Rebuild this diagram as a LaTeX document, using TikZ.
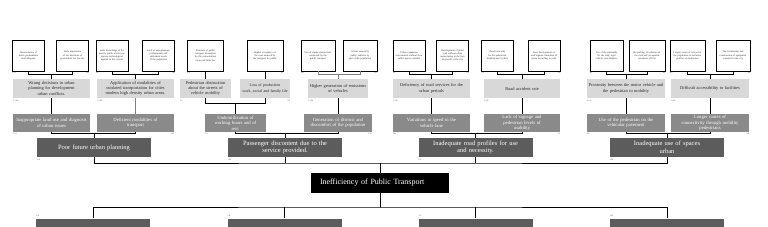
\documentclass[tikz,border=0pt]{standalone}
\usepackage{fontspec}
\setmainfont{Liberation Serif}
\usepackage{xcolor}
\usetikzlibrary{positioning}
\definecolor{boxdark}{RGB}{92,92,92}
\definecolor{boxmid}{RGB}{138,138,138}
\definecolor{boxlight}{RGB}{216,216,216}
\definecolor{textdark}{RGB}{40,40,40}
\hyphenpenalty=10000
\exhyphenpenalty=10000

\begin{document}
\begin{tikzpicture}[x=1pt, y=1pt,
  every node/.style={inner sep=0pt, align=center},
  wbox/.style={draw=black, line width=0.9pt, fill=white, minimum width=32pt, text width=27pt, minimum height=31pt, text=textdark, font=\fontsize{2.5}{3.1}\selectfont},
  lbox/.style={fill=boxlight, minimum height=19pt, text=textdark, font=\fontsize{4.4}{5.3}\selectfont},
  mbox/.style={fill=boxmid, minimum height=18pt, text=white, font=\fontsize{4.7}{5.6}\selectfont},
  ebox/.style={fill=boxdark, minimum width=114pt, text width=106pt, minimum height=19pt, text=white, font=\fontsize{6.5}{7.6}\selectfont},
  problem/.style={fill=black, text=white, minimum height=20pt, text width=120pt, inner xsep=9pt, align=left, font=\fontsize{8}{9}\selectfont},
  idtag/.style={text=textdark, font=\fontsize{2}{2.4}\selectfont},
  link/.style={line width=0.9pt},
  faint/.style={line width=0.9pt, draw=gray}]
\useasboundingbox (0,0) rectangle (768,-227);
\clip (0,0) rectangle (768,-227);

% central problem
\node[problem] (prob) at (380,-183) {Inefficiency of Public Transport};

% effects
\node[ebox] (e1) at (94,-147.5) {Poor future urban planning};
\node[ebox] (e2) at (285,-147.5) {Passenger discontent due to the\\ service provided.};
\node[ebox] (e3) at (475.5,-147.5) {Inadequate road profiles for use\\ and necessity.};
\node[ebox] (e4) at (667,-147.5) {Inadequate use of spaces\\ urban};

% causes
\node[ebox] (c1) at (93,-228) {};
\node[ebox] (c2) at (284.5,-228) {};
\node[ebox] (c3) at (475.5,-228) {};
\node[ebox] (c4) at (667,-228) {};

% second level
\node[mbox, minimum width=77pt, text width=75pt] (m1) at (51.5,-123) {Inappropriate land use and diagnosis\\ of urban issues};
\node[mbox, minimum width=77pt, text width=75pt] (m2) at (135.5,-123) {Deficient modalities of\\ transport};
\node[mbox, minimum width=61pt, text width=59pt] (m3) at (235.5,-123) {Underutilization of\\ working hours and of\\ rest.};
\node[mbox, minimum width=68pt, text width=66pt] (m4) at (338,-123) {Generation of distrust and\\ discomfort of the population};
\node[mbox, minimum width=77pt, text width=75pt] (m5) at (431.5,-123) {Variations in speed in the\\ vehicle lane};
\node[mbox, minimum width=76pt, text width=74pt] (m6) at (522,-123) {Lack of signage and\\ pedestrian levels of\\ usability};
\node[mbox, minimum width=78pt, text width=76pt] (m7) at (626,-123) {Use of the pedestrian on the\\ vehicular pavement};
\node[mbox, minimum width=78pt, text width=76pt] (m8) at (710,-123) {Longer routes of\\ connectivity through mobility\\ pedestrians};

% third level
\node[lbox, minimum width=77pt, text width=75pt] (l1) at (51.5,-88.5) {Wrong decisions in urban\\ planning for development\\ urban conflicts.};
\node[lbox, minimum width=77pt, text width=76pt] (l2) at (135.5,-88.5) {Application of modalities of\\ outdated transportation for cities\\ modern high density urban areas.};
\node[lbox, minimum width=51pt, text width=51pt] (l3) at (205.5,-88.5) {Pedestrian obstruction\\ about the streets of\\ vehicle mobility};
\node[lbox, minimum width=50pt, text width=50pt, font=\fontsize{4}{5.1}\selectfont] (l4) at (265,-88.5) {Loss of production\\ work, social and family life};
\node[lbox, minimum width=60pt, text width=60pt] (l5) at (338,-88.5) {Higher generation of emissions\\ of vehicles};
\node[lbox, minimum width=77pt, text width=75pt] (l6) at (431.5,-88.5) {Deficiency of road services for the\\ urban periods};
\node[lbox, minimum width=76pt, text width=74pt] (l7) at (522,-88.5) {Road accident rate};
\node[lbox, minimum width=78pt, text width=78pt] (l8) at (626,-88.5) {Proximity between the motor vehicle and\\ the pedestrian to mobility};
\node[lbox, minimum width=78pt, text width=76pt] (l9) at (710,-88.5) {Difficult accessibility to facilities};

% top level
\node[wbox] (w1) at (28.5,-55.5) {Disorientation of future predominant land adequate};
\node[wbox] (w2) at (72.5,-55.5) {Little importance of the decisions of government for the city};
\node[wbox] (w3) at (112,-55.5) {Little knowledge of the service public about new options technological applied to the control};
\node[wbox] (w4) at (158.5,-55.5) {Lack of entrepreneurs, professionals and settlement needs of the population};
\node[wbox, minimum width=36pt, text width=31pt] (w5) at (205.5,-55.5) {Structure of public transport incomplete for the concentration areas and links bus};
\node[wbox, minimum width=36pt, text width=31pt] (w6) at (265,-55.5) {Higher occupancy of the road network by the transport for public};
\node[wbox, minimum width=34pt, text width=29pt] (w7) at (318,-55.5) {Use of trucks obstructions connected by the public transport};
\node[wbox, minimum width=34pt, text width=29pt] (w8) at (360,-55.5) {Greater insecurity public vehicles by part of the population};
\node[wbox] (w9) at (409,-55.5) {Urban expansion concentrated without clear public spaces suitable};
\node[wbox] (w10) at (452.5,-55.5) {Development of plans road without urban restructuring in the face of growth of the city};
\node[wbox] (w11) at (497.5,-55.5) {Road insecurity for the pedestrian, disabled and cyclists};
\node[wbox] (w12) at (544,-55.5) {Poor development of road signals, limitation of space according to code};
\node[wbox, minimum width=33pt] (w13) at (606.5,-55.5) {Use of the sidewalks for the road, rigid vehicle, non adaptive};
\node[wbox, minimum width=36pt, text width=31pt] (w14) at (647,-55.5) {Re-parking of vehicles on the road and occupation pavement of first};
\node[wbox, minimum width=35pt, text width=30pt] (w15) at (687.5,-55.5) {Longer routes of access for the population to exclusive profiles of destination};
\node[wbox, minimum width=34pt, text width=29pt] (w16) at (733,-55.5) {The localization and construction of equipment scattered in the city};

% tags
\node[idtag, below right=1.5pt and 0pt of e1.south west] (te1) {1.A};
\node[idtag, below right=1.5pt and 0pt of e2.south west] (te2) {1.B};
\node[idtag, below right=1.5pt and 0pt of e3.south west] (te3) {1.C};
\node[idtag, below right=1.5pt and 0pt of e4.south west] (te4) {1.D};
\node[idtag, above right=1.5pt and 0pt of c1.north west] (tc1) {1.A};
\node[idtag, above right=1.5pt and 0pt of c2.north west] (tc2) {1.B};
\node[idtag, above right=1.5pt and 0pt of c3.north west] (tc3) {1.C};
\node[idtag, above right=1.5pt and 0pt of c4.north west] (tc4) {1.D};
\node[idtag, below right=1pt and 0pt of m1.south west] (tm1) {1.1.i};
\node[idtag, below left=1pt and 0pt of m2.south east] (tm2) {1.B};
\node[idtag, below right=1pt and 0pt of m3.south west] (tm3) {1.1};
\node[idtag, below left=1pt and 0pt of m4.south east] (tm4) {1.2.i};
\node[idtag, below right=1pt and 0pt of m5.south west] (tm5) {2.B};
\node[idtag, below left=1pt and 0pt of m6.south east] (tm6) {1.3};
\node[idtag, below right=1pt and 0pt of m7.south west] (tm7) {1.6};
\node[idtag, below left=1pt and 0pt of m8.south east] (tm8) {1.8};
\node[idtag, below right=1.5pt and 0pt of l1.south west] (tl1) {1.1.A1};
\node[idtag, below right=1.5pt and 0pt of l2.south west] (tl2) {1.1.A2};
\node[idtag, below right=1.5pt and 0pt of l3.south west] (tl3) {2.1};
\node[idtag, below left=1.5pt and 0pt of l4.south east] (tl4) {2.2};
\node[idtag, below right=1.5pt and 0pt of l5.south west] (tl5) {1.2.A1};
\node[idtag, below right=1.5pt and 0pt of l6.south west] (tl6) {3.1.A};
\node[idtag, below right=1.5pt and 0pt of l7.south west] (tl7) {3.2.A};
\node[idtag, below right=1.5pt and 0pt of l8.south west] (tl8) {1.6.A};
\node[idtag, below right=1.5pt and 0pt of l9.south west] (tl9) {1.8.A};
\node[idtag, below right=1pt and 0pt of w1.south west] (tw1) {1.1.i};
\node[idtag, below left=1pt and 0pt of w2.south east] (tw2) {1.B};
\node[idtag, below right=1pt and 0pt of w3.south west] (tw3) {1.2};
\node[idtag, below left=1pt and 0pt of w4.south east] (tw4) {1.B};
\node[idtag, below right=1pt and 0pt of w5.south west] (tw5) {2.3};
\node[idtag, below left=1pt and 0pt of w6.south east] (tw6) {2.7};
\node[idtag, below right=1pt and 0pt of w7.south west] (tw7) {2.11};
\node[idtag, below left=1pt and 0pt of w8.south east] (tw8) {2.13};
\node[idtag, below right=1pt and 0pt of w9.south west] (tw9) {3.1};
\node[idtag, below left=1pt and 0pt of w10.south east] (tw10) {3.2};
\node[idtag, below right=1pt and 0pt of w11.south west] (tw11) {3.3};
\node[idtag, below left=1pt and 0pt of w12.south east] (tw12) {3.4};
\node[idtag, below right=1pt and 0pt of w13.south west] (tw13) {4.1};
\node[idtag, below left=1pt and 0pt of w14.south east] (tw14) {4.2};
\node[idtag, below right=1pt and 0pt of w15.south west] (tw15) {4.3};
\node[idtag, below left=1pt and 0pt of w16.south east] (tw16) {4.4};

% joints
\coordinate (up) at (380,-163);
\coordinate (dn) at (380,-207);
\coordinate (k1) at ([yshift=4pt]e1.north);
\coordinate (k2) at ([yshift=4pt]e2.north);
\coordinate (k3) at ([yshift=4pt]e3.north);
\coordinate (k4) at ([yshift=4pt]e4.north);
\coordinate (j1) at ([yshift=4pt]l1.north);
\coordinate (j2) at ([yshift=4pt]l2.north);
\coordinate (j3) at ([yshift=10pt]m3.north);
\coordinate (j5) at ([yshift=4pt]l5.north);
\coordinate (j6) at ([yshift=4pt]l6.north);
\coordinate (j7) at ([yshift=4pt]l7.north);
\coordinate (j8) at ([yshift=4pt]l8.north);
\coordinate (j9) at ([yshift=4pt]l9.north);

% connectors
\draw[link] (e1.south) |- (up) -| (e4.south) (up) -- (prob.north);
\draw[link] (e2.south) -- (e2.south |- up);
\draw[link] (e3.south) -- (e3.south |- up);
\draw[link] (c1.north) |- (dn) -| (c4.north) (dn) -- (prob.south);
\draw[link] (c2.north) -- (c2.north |- dn);
\draw[link] (c3.north) -- (c3.north |- dn);
\draw[link] (m1.south) |- (k1) -| (m2.south) (k1) -- (e1.north);
\draw[link] (m3.south) |- (k2) -| (m4.south) (k2) -- (e2.north);
\draw[link] (m5.south) |- (k3) -| (m6.south) (k3) -- (e3.north);
\draw[link] (m7.south) |- (k4) -| (m8.south) (k4) -- (e4.north);
\draw[link] (l1) -- (m1);
\draw[faint] (l2) -- (m2);
\draw[link] (l3.south) |- (j3) -| (l4.south) (j3) -- (m3.north);
\draw[link] (l5) -- (m4);
\draw[link] (l6) -- (m5);
\draw[link] (l7) -- (m6);
\draw[link] (l8) -- (m7);
\draw[link] (l9) -- (m8);
\draw[link] (w1.south) |- (j1) -| (w2.south) (j1) -- (l1.north);
\draw[link] (w3.south) |- (j2) -| (w4.south) (j2) -- (l2.north);
\draw[link] (w5) -- (l3);
\draw[link] (w6) -- (l4);
\draw[faint] (w7.south) |- (j5) -| (w8.south) (j5) -- (l5.north);
\draw[link] (w9.south) |- (j6) -| (w10.south) (j6) -- (l6.north);
\draw[link] (w11.south) |- (j7) -| (w12.south) (j7) -- (l7.north);
\draw[link] (w13.south) |- (j8) -| (w14.south) (j8) -- (l8.north);
\draw[link] (w15.south) |- (j9) -| (w16.south) (j9) -- (l9.north);
\end{tikzpicture}
\end{document}
